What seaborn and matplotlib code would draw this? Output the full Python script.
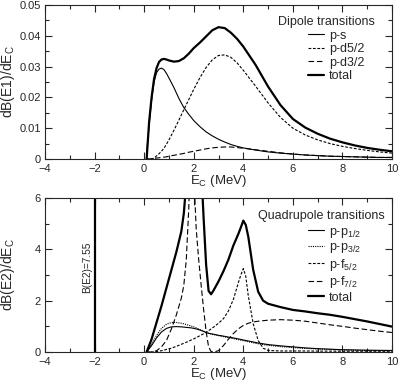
import numpy as np
import seaborn as sns
import matplotlib
matplotlib.use('Agg')
import matplotlib.pyplot as plt
from matplotlib.ticker import MultipleLocator, FuncFormatter

# --- dipole (E1) panel data ---
e1_energy = [0.1, 0.2, 0.3, 0.4, 0.5, 0.6, 0.7, 0.8, 0.9, 1.0, 1.2, 1.4, 1.6, 1.8, 2.0,
             2.25, 2.5, 2.75, 3.0, 3.25, 3.5, 3.75, 4.0, 4.5, 5.0, 5.5, 6.0, 6.5, 7.0,
             7.5, 8.0, 8.5, 9.0, 9.5, 10.0]
e1_ps = [0.002, 0.011, 0.019, 0.025, 0.028, 0.0292, 0.0295, 0.029, 0.0278, 0.0263, 0.0232,
         0.0197, 0.0167, 0.0145, 0.0125, 0.0105, 0.0088, 0.0075, 0.0064, 0.0055, 0.0047,
         0.0041, 0.0036, 0.0029, 0.0023, 0.0019, 0.0016, 0.0013, 0.0011, 0.0009, 0.0008,
         0.0007, 0.0006, 0.0005, 0.0005]
e1_pd52 = [0.0, 0.0, 0.0, 0.0003, 0.001, 0.0017, 0.0025, 0.0035, 0.0048, 0.0062, 0.0093,
           0.0126, 0.016, 0.0193, 0.0226, 0.0264, 0.0297, 0.0322, 0.0336, 0.0338, 0.033,
           0.0312, 0.0288, 0.0236, 0.0182, 0.0135, 0.0100, 0.0078, 0.0062, 0.005, 0.0041,
           0.0034, 0.0028, 0.0023, 0.0019]
e1_pd32 = [0.0, 0.0, 0.0001, 0.0002, 0.0003, 0.0004, 0.0005, 0.0006, 0.0007, 0.0009, 0.0012,
           0.0015, 0.0018, 0.0022, 0.0025, 0.0029, 0.0033, 0.0036, 0.0038, 0.0039, 0.0039,
           0.0037, 0.0035, 0.003, 0.0025, 0.002, 0.0016, 0.0013, 0.0011, 0.0009, 0.0008,
           0.0007, 0.0006, 0.0005, 0.0005]
e1_total = [0.0, 0.012, 0.020, 0.026, 0.0295, 0.0315, 0.0323, 0.0325, 0.0323, 0.032, 0.0316,
            0.0318, 0.0327, 0.0342, 0.036, 0.0378, 0.0398, 0.0418, 0.0428, 0.0425, 0.041,
            0.039, 0.0365, 0.0305, 0.0235, 0.0175, 0.013, 0.0102, 0.0082, 0.0066, 0.0054,
            0.0044, 0.0036, 0.003, 0.0025]

# --- quadrupole (E2) panel data ---
e2_energy = [0.1, 0.3, 0.5, 0.7, 0.9, 1.1, 1.3, 1.5, 1.6, 1.7, 1.8, 1.9, 2.0, 2.1, 2.2,
             2.3, 2.4, 2.5, 2.6, 2.7, 2.8, 3.0, 3.2, 3.4, 3.6, 3.8, 3.9, 4.0, 4.1, 4.2,
             4.4, 4.6, 4.8, 5.0, 5.5, 6.0, 6.5, 7.0, 7.5, 8.0, 8.5, 9.0, 9.5, 10.0]
e2_pp12 = [0.0, 0.25, 0.55, 0.78, 0.92, 0.98, 0.99, 0.98, 0.97, 0.96, 0.95, 0.94, 0.92,
           0.9, 0.87, 0.84, 0.8, 0.76, 0.73, 0.71, 0.69, 0.65, 0.62, 0.58, 0.55, 0.51,
           0.49, 0.47, 0.45, 0.43, 0.39, 0.35, 0.32, 0.29, 0.24, 0.2, 0.16, 0.13, 0.11,
           0.09, 0.08, 0.07, 0.065, 0.06]
e2_pp32 = [0.0, 0.3, 0.65, 0.92, 1.08, 1.15, 1.15, 1.12, 1.1, 1.07, 1.04, 1.01, 0.98,
           0.94, 0.9, 0.86, 0.81, 0.77, 0.73, 0.7, 0.68, 0.64, 0.6, 0.56, 0.52, 0.48,
           0.46, 0.44, 0.42, 0.4, 0.36, 0.32, 0.29, 0.26, 0.21, 0.17, 0.14, 0.12, 0.1,
           0.08, 0.07, 0.06, 0.055, 0.05]
e2_pf52 = [0.0, 0.0, 0.02, 0.05, 0.1, 0.15, 0.22, 0.3, 0.34, 0.38, 0.42, 0.47, 0.51,
           0.56, 0.61, 0.66, 0.71, 0.77, 0.83, 0.9, 0.97, 1.12, 1.3, 1.6, 2.05, 2.7,
           3.0, 3.25, 2.95, 2.2, 1.1, 0.45, 0.15, 0.06, 0.04, 0.04, 0.04, 0.035, 0.035,
           0.03, 0.03, 0.03, 0.03, 0.03]
e2_pf72 = [0.0, 0.0, 0.05, 0.2, 0.45, 0.9, 1.45, 2.1, 2.6, 3.6, 5.6, 9.0, 7.0, 4.8, 3.6,
           2.6, 1.65, 0.8, 0.2, 0.02, 0.0, 0.05, 0.25, 0.5, 0.72, 0.9, 0.97, 1.03, 1.08,
           1.12, 1.17, 1.2, 1.22, 1.24, 1.26, 1.24, 1.2, 1.13, 1.06, 1.0, 0.93, 0.87,
           0.81, 0.76]
e2_total = [0.0, 0.5, 1.15, 1.8, 2.5, 3.2, 3.9, 4.7, 5.4, 6.6, 9.0, 12.0, 12.0, 10.5, 9.0,
            7.2, 5.2, 3.4, 2.38, 2.25, 2.4, 2.75, 3.15, 3.6, 4.15, 4.6, 4.85, 5.12, 4.95,
            4.5, 3.2, 2.35, 2.0, 1.88, 1.75, 1.64, 1.58, 1.51, 1.45, 1.37, 1.28, 1.19,
            1.09, 0.99]

bound_energy = -2.0
bound_be2 = 7.55

sns.set_style('ticks')
plt.rcParams['font.family'] = ['Liberation Sans', 'DejaVu Sans']
plt.rcParams['mathtext.default'] = 'regular'
plt.rcParams['xtick.direction'] = 'in'
plt.rcParams['ytick.direction'] = 'in'
plt.rcParams['axes.linewidth'] = 0.8

fig = plt.figure(figsize=(3.99, 3.81), dpi=100)
ax1 = fig.add_axes([0.1128, 0.5827, 0.8697, 0.4042])
ax2 = fig.add_axes([0.1128, 0.0761, 0.8697, 0.4042])

thin = 0.8
thick = 1.6
short_dash = (0, (2.5, 1.5))
long_dash = (0, (5, 2.5))
fs_tick = 8
fs_xlabel = 9.5
fs_ylabel = 10
fs_leg = 9

# top panel
sns.lineplot(x=e1_energy, y=e1_ps, ax=ax1, color='k', linewidth=thin, label='p-s')
sns.lineplot(x=e1_energy, y=e1_pd52, ax=ax1, color='k', linewidth=thin,
             linestyle=short_dash, label='p-d5/2')
sns.lineplot(x=e1_energy, y=e1_pd32, ax=ax1, color='k', linewidth=thin,
             linestyle=long_dash, label='p-d3/2')
sns.lineplot(x=e1_energy, y=e1_total, ax=ax1, color='k', linewidth=thick, label='total')

# bottom panel
sns.lineplot(x=e2_energy, y=e2_pp12, ax=ax2, color='k', linewidth=thin,
             label='p-p$_{1/2}$')
sns.lineplot(x=e2_energy, y=e2_pp32, ax=ax2, color='k', linewidth=thin,
             linestyle=(0, (1, 1)), label='p-p$_{3/2}$')
sns.lineplot(x=e2_energy, y=e2_pf52, ax=ax2, color='k', linewidth=thin,
             linestyle=short_dash, label='p-f$_{5/2}$')
sns.lineplot(x=e2_energy, y=e2_pf72, ax=ax2, color='k', linewidth=thin,
             linestyle=long_dash, label='p-f$_{7/2}$')
sns.lineplot(x=e2_energy, y=e2_total, ax=ax2, color='k', linewidth=thick, label='total')
ax2.axvline(bound_energy, color='k', linewidth=thick)
ax2.text(bound_energy - 0.3, 3.3, f'B(E2)={bound_be2:.2f}', rotation=90,
         ha='center', va='center', fontsize=7.3)

fmt = FuncFormatter(lambda v, p: '%g' % round(v, 6))
for ax, ymax, major, minor in [(ax1, 0.05, 0.01, 0.005), (ax2, 6, 2, 1)]:
    ax.set_xlim(-4, 10)
    ax.set_ylim(0, ymax)
    ax.xaxis.set_major_locator(MultipleLocator(2))
    ax.xaxis.set_minor_locator(MultipleLocator(1))
    ax.yaxis.set_major_locator(MultipleLocator(major))
    ax.yaxis.set_minor_locator(MultipleLocator(minor))
    ax.yaxis.set_major_formatter(fmt)
    ax.tick_params(which='both', top=True, right=True, labelsize=fs_tick, width=0.8)
    ax.tick_params(axis='x', pad=3.5)
    ax.tick_params(axis='y', pad=3)
    ax.tick_params(which='major', length=5)
    ax.tick_params(which='minor', length=3)
    ax.set_xlabel('E$_C$ (MeV)', fontsize=fs_xlabel, labelpad=-0.5)
    for s in ax.spines.values():
        s.set_visible(True)

ax1.set_ylabel('dB(E1)/dE$_C$', fontsize=fs_ylabel)
ax2.set_ylabel('dB(E2)/dE$_C$', fontsize=fs_ylabel)
ax1.yaxis.set_label_coords(-0.081, 0.5)
ax2.yaxis.set_label_coords(-0.081, 0.5)

ax1.text(0.951, 0.89, 'Dipole transitions', transform=ax1.transAxes,
         ha='right', va='center', fontsize=fs_leg)
ax2.text(0.98, 0.883, 'Quadrupole transitions', transform=ax2.transAxes,
         ha='right', va='center', fontsize=fs_leg)

leg_kw = dict(loc='upper left', frameon=False, fontsize=fs_leg, handlelength=1.25,
              handletextpad=0.4, borderpad=0, borderaxespad=0, labelspacing=0.12)
ax1.legend(bbox_to_anchor=(0.758, 0.84), **leg_kw)
ax2.legend(bbox_to_anchor=(0.758, 0.82), **leg_kw)

fig.savefig('out.png', dpi=100)
